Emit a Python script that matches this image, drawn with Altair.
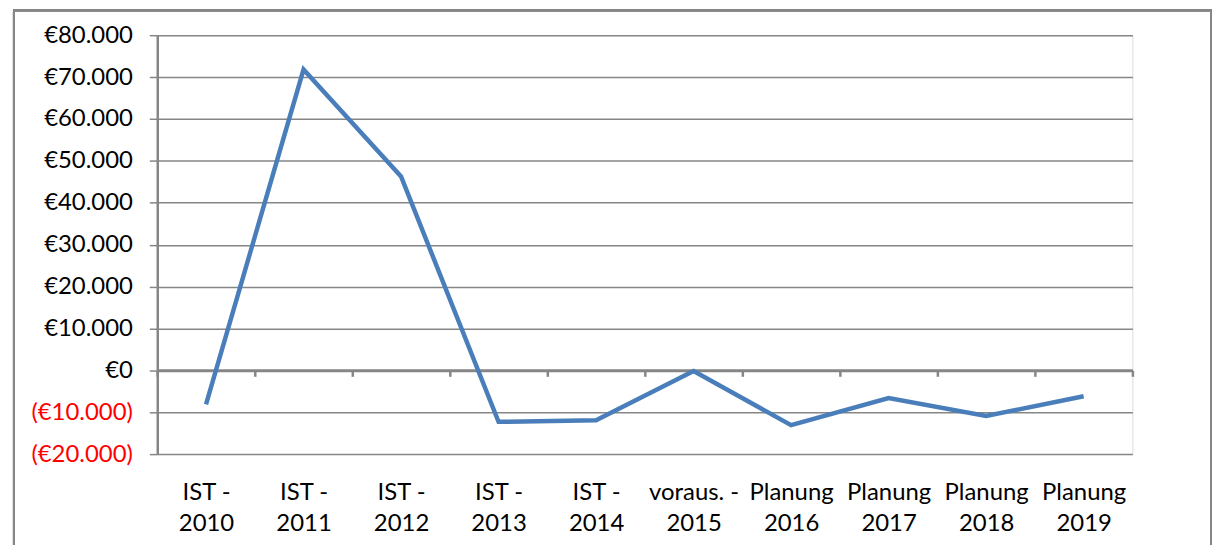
import altair as alt
import pandas as pd

categories = ["IST - 2010", "IST - 2011", "IST - 2012", "IST - 2013", "IST - 2014",
              "voraus. - 2015", "Planung 2016", "Planung 2017", "Planung 2018", "Planung 2019"]
values = [-8100, 71800, 46300, -12300, -11900, -150, -13100, -6600, -10900, -6200]
y_ticks = [-20000, -10000, 0, 10000, 20000, 30000, 40000, 50000, 60000, 70000, 80000]
y_min, y_max = -20000, 80000

W, H = 980, 421
GRAY = "#868686"
FONT = "Lato"

df = pd.DataFrame({"cat": categories, "val": values})

zero_offset = -H * (0 - y_min) / (y_max - y_min)

y_label_expr = (
    "datum.value < 0 ? '(€' + replace(format(-datum.value, ','), ',', '.') + ')' : "
    "(datum.value == 0 ? '€0\u00a0' : '€' + replace(format(datum.value, ','), ',', '.') + '\u00a0')"
)
x_label_expr = (
    "[slice(datum.label, 0, lastindexof(datum.label, ' ')), "
    "slice(datum.label, lastindexof(datum.label, ' ') + 1)]"
)

base = alt.Chart(df)

line = base.mark_line(color="#4A7EBB", strokeWidth=4.5).encode(
    x=alt.X("cat:N", sort=categories, bandPosition=0.5,
            scale=alt.Scale(type="band", paddingInner=0, paddingOuter=0),
            axis=alt.Axis(title=None, orient="bottom", offset=zero_offset,
                          domainColor=GRAY, domainWidth=3,
                          ticks=True, tickBand="extent", tickSize=6, tickWidth=2.5,
                          tickColor=GRAY, grid=False, labelAngle=0,
                          labelExpr=x_label_expr, labelPadding=105,
                          labelFont=FONT, labelFontSize=24, labelColor="black",
                          labelLineHeight=31, labelBaseline="top")),
    y=alt.Y("val:Q",
            scale=alt.Scale(domain=[y_min, y_max], nice=False, zero=False),
            axis=alt.Axis(title=None, values=y_ticks, labelExpr=y_label_expr,
                          domainColor=GRAY, domainWidth=2.5,
                          tickColor=GRAY, tickSize=8, tickWidth=1.5,
                          gridColor=GRAY, gridWidth=1.5, grid=True,
                          labelFont=FONT, labelFontSize=24, labelPadding=17,
                          labelColor={"condition": {"test": "datum.value < 0", "value": "#FF0000"},
                                      "value": "black"})),
)

frame = base.mark_rect(filled=False, stroke=GRAY, strokeWidth=2).encode(
    x=alt.value(-144), x2=alt.value(1059), y=alt.value(-25), y2=alt.value(540)
)

chart = alt.layer(line, frame).properties(
    width=W, height=H,
    autosize=alt.AutoSizeParams(type="none"),
    padding={"left": 150, "top": 26, "right": 80, "bottom": 90},
).configure_view(stroke=None).configure(background="white")

chart.save("out.html", embed_options={"renderer": "svg", "actions": False})
